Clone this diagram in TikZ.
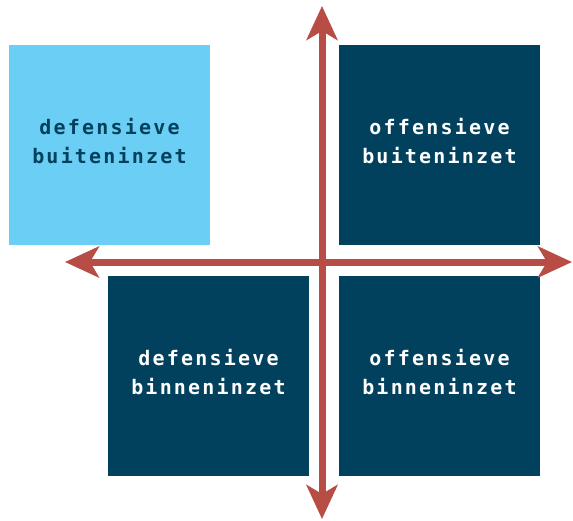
\documentclass[tikz,border=0pt]{standalone}
\usepackage{fontspec}
\setmonofont[LetterSpace=11]{DejaVu Sans Mono}
\usepackage{xcolor}
\usetikzlibrary{arrows.meta}

\definecolor{lightblue}{HTML}{6BCEF5}
\definecolor{darkblue}{HTML}{02415E}
\definecolor{arrowred}{HTML}{B84D45}

\begin{document}
\begin{tikzpicture}[x=1pt, y=-1pt,
    quadrant/.style={minimum width=201pt, minimum height=200pt, inner sep=0pt,
      align=center, text depth=8pt, font=\ttfamily\bfseries\fontsize{20}{29}\selectfont},
    axis/.style={arrowred, line width=7pt,
      {Stealth[length=34pt, width=31pt, inset=9pt]}-{Stealth[length=34pt, width=31pt, inset=9pt]}}]
  \useasboundingbox (0, 0) rectangle (573, 520);

  \node[quadrant, fill=lightblue, text=darkblue] (defbuiten) at (109.5, 145) {defensieve\\buiteninzet};
  \node[quadrant, fill=darkblue, text=white] (offbuiten) at (439.5, 145) {offensieve\\buiteninzet};
  \node[quadrant, fill=darkblue, text=white] (defbinnen) at (208.5, 376) {defensieve\\binneninzet};
  \node[quadrant, fill=darkblue, text=white] (offbinnen) at (439.5, 376) {offensieve\\binneninzet};

  \coordinate (top) at (322, 6);
  \coordinate (bottom) at (322, 519);
  \coordinate (left) at (65, 262);
  \coordinate (right) at (572, 262);

  \draw[axis] (top) -- (bottom);
  \draw[axis] (left) -- (right);
\end{tikzpicture}
\end{document}
